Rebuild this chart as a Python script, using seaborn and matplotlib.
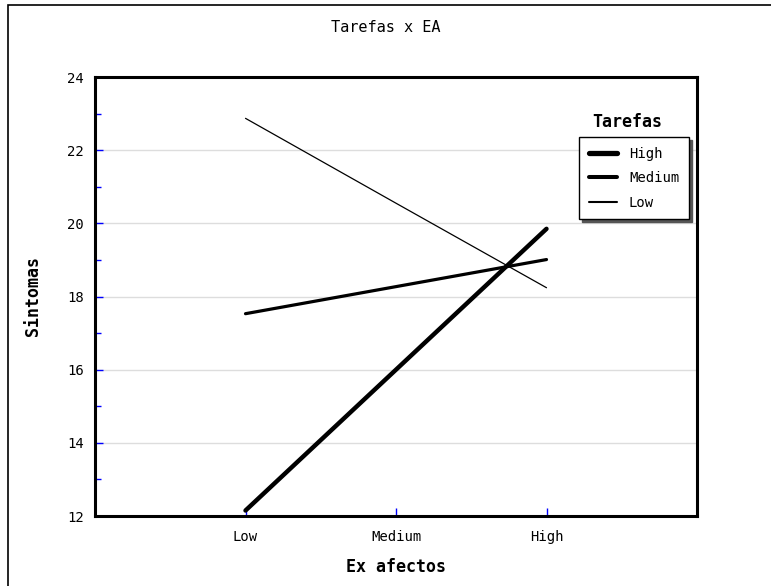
import pandas as pd
import seaborn as sns
import matplotlib.pyplot as plt
from matplotlib.patches import Rectangle
from matplotlib.lines import Line2D
from matplotlib.ticker import MultipleLocator

# values
ea_levels = ['Low', 'Medium', 'High']
tarefas_high = [12.15, 16.0, 19.85]
tarefas_medium = [17.53, 18.27, 19.01]
tarefas_low = [22.87, 20.55, 18.24]

df = pd.DataFrame({
    'EA': ea_levels * 3,
    'Sintomas': tarefas_high + tarefas_medium + tarefas_low,
    'Tarefas': ['High'] * 3 + ['Medium'] * 3 + ['Low'] * 3,
})

sns.set_style('white')
plt.rcParams['font.family'] = ['DejaVu Sans Mono']
plt.rcParams['text.color'] = 'black'
plt.rcParams['axes.labelcolor'] = 'black'

fig = plt.figure(figsize=(7.71, 5.86), dpi=100)
ax = fig.add_axes([95 / 771, 1 - 516 / 586, 602 / 771, 439 / 586])

widths = {'High': 3.2, 'Medium': 2.3, 'Low': 0.9}
sns.lineplot(data=df, x='EA', y='Sintomas', hue='Tarefas', size='Tarefas',
             sizes=widths, palette={'High': 'black', 'Medium': 'black', 'Low': 'black'},
             hue_order=['High', 'Medium', 'Low'], sort=False, ax=ax, legend=False)

ax.set_xlim(-1, 3)
ax.set_ylim(12, 24)
ax.yaxis.set_major_locator(MultipleLocator(2))
ax.yaxis.set_minor_locator(MultipleLocator(1))
ax.grid(axis='y', color='#dddddd', linewidth=1)
ax.set_axisbelow(True)

for s in ax.spines.values():
    s.set_linewidth(2.2)
    s.set_color('black')

ax.tick_params(axis='both', which='major', direction='in', length=6, width=1,
               color='blue', labelsize=10, labelcolor='black')
ax.tick_params(axis='x', which='major', bottom=True, pad=10)
ax.tick_params(axis='y', which='major', left=True, pad=8)
ax.tick_params(axis='y', which='minor', direction='in', length=4, width=1, color='blue', left=True)

ax.set_xlabel('Ex afectos', fontsize=12, fontweight='bold', labelpad=10)
ax.set_ylabel('Sintomas', fontsize=12, fontweight='bold', labelpad=18)
fig.text(0.5, 1 - 27 / 586, 'Tarefas x EA', ha='center', va='center', fontsize=11)

# legend, title drawn above the box as in the reference
handles = [Line2D([], [], color='black', lw=widths[k] + 0.6) for k in ['High', 'Medium', 'Low']]
leg = ax.legend(handles, ['High', 'Medium', 'Low'], loc='upper left',
                bbox_to_anchor=((579 - 95) / 602, 1 - (137 - 77) / 439),
                borderaxespad=0, frameon=True, fancybox=False,
                shadow={'color': '#555555', 'alpha': 1},
                fontsize=10, handlelength=2.0, handletextpad=0.9, labelspacing=0.75,
                borderpad=0.7)
leg.get_frame().set_edgecolor('black')
leg.get_frame().set_linewidth(1)
ax.text((627 - 95) / 602, 1 - (122 - 77) / 439, 'Tarefas', transform=ax.transAxes,
        ha='center', va='center', fontsize=12, fontweight='bold')

# outer frame of the figure
fig.patches.append(Rectangle((8 / 771, -0.1), 1.2, (586 - 5) / 586 + 0.1,
                             transform=fig.transFigure, fill=False,
                             edgecolor='black', linewidth=1.2, figure=fig))

fig.savefig('out.png', dpi=100)
